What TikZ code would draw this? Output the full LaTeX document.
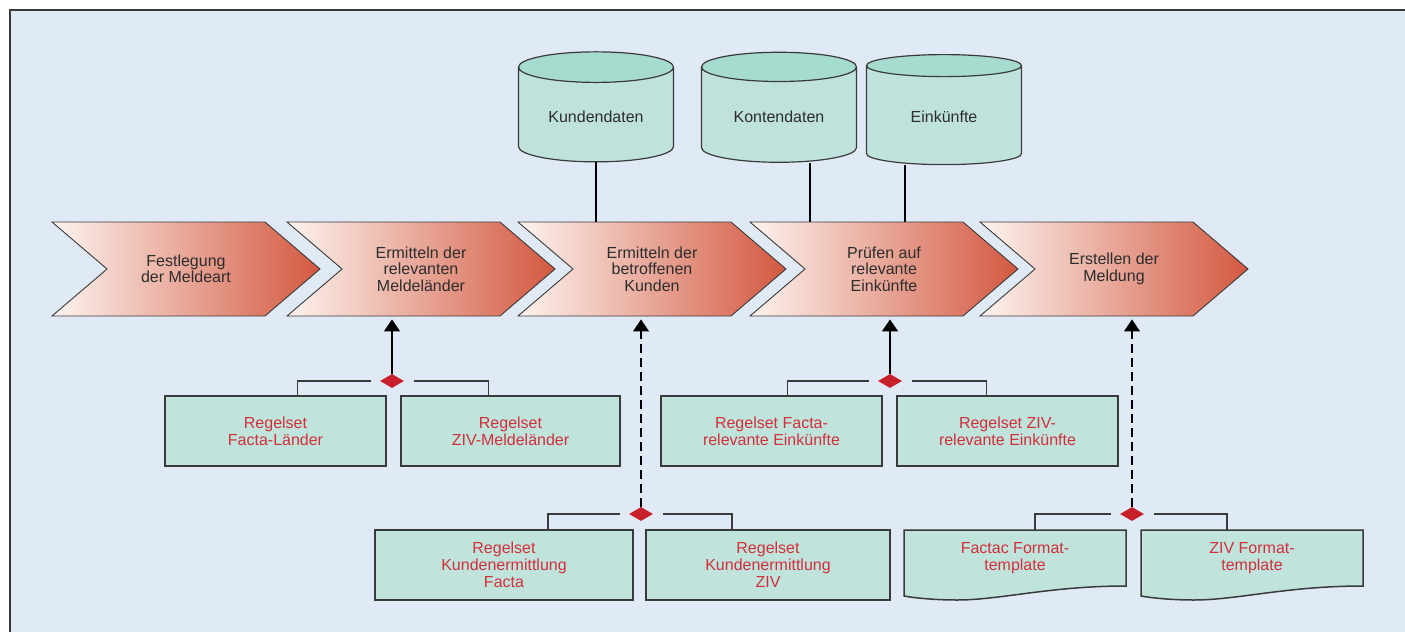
\documentclass[tikz,border=0pt]{standalone}
\usepackage{fontspec}
\setmainfont{Liberation Sans}
\usetikzlibrary{shapes.symbols,shapes.geometric,arrows.meta,calc}
\definecolor{sfondo}{RGB}{224,234,246}
\definecolor{bordo}{RGB}{58,58,58}
\definecolor{chevL}{RGB}{253,244,239}
\definecolor{chevR}{RGB}{211,88,64}
\definecolor{cilB}{RGB}{191,227,220}
\definecolor{cilT}{RGB}{166,220,208}
\definecolor{verde}{RGB}{192,228,220}
\definecolor{rosso}{RGB}{208,48,60}
\definecolor{rombo}{RGB}{200,32,43}
\definecolor{testo}{RGB}{45,45,45}
\begin{document}
\begin{tikzpicture}[x=1pt,y=-1pt,
    fase/.style={signal,signal from=west,signal to=east,signal pointer angle=81,
        minimum width=268pt,minimum height=94pt,inner sep=0pt,draw=bordo,line width=0.9pt,
        left color=chevL,right color=chevR,text=testo,align=center,
        font=\fontsize{16}{16.5}\selectfont},
    archivio/.style={cylinder,shape border rotate=90,aspect=0.3,cylinder uses custom fill,
        cylinder body fill=cilB,cylinder end fill=cilT,draw=bordo,line width=1.2pt,
        minimum width=155pt,minimum height=110pt,text=testo,font=\fontsize{16}{17}\selectfont},
    regola/.style={rectangle,draw=bordo,line width=1.5pt,fill=verde,text=rosso,align=center,
        minimum height=70pt,font=\fontsize{16}{17}\selectfont},
    modello/.style={rectangle,minimum height=56pt,text=rosso,align=center,
        font=\fontsize{16}{17}\selectfont},
    foglio/.style={draw=bordo,line width=1.5pt,fill=verde},
    nodo/.style={diamond,fill=rombo,inner sep=0pt,minimum width=24pt,minimum height=14pt,aspect=1.7},
    freccia/.style={line width=1.8pt,-{Triangle[width=16pt,length=12pt]},shorten >=3pt},
    tratteggio/.style={freccia,line width=1.2pt,dash pattern=on 9pt off 5pt},
    ramo/.style={draw=bordo,line width=1.3pt},
    linea/.style={line width=1.3pt}]
    \useasboundingbox(0,0)rectangle(1405,632);
    % cornice
    \fill[sfondo](10,10)rectangle(1405,632);
    \draw[bordo,line width=2pt](1405,10)--(10,10)--(10,632);

    % fasi del processo
    \node[fase](s1)at(186,269){Festlegung\\der Meldeart};
    \node[fase](s2)at(421,269){Ermitteln der\\relevanten\\Meldeländer};
    \node[fase](s3)at(652,269){Ermitteln der\\betroffenen\\Kunden};
    \node[fase](s4)at(884,269){Prüfen auf\\relevante\\Einkünfte};
    \node[fase](s5)at(1114,269){Erstellen der\\Meldung};

    % banche dati
    \node[archivio](kd)at(596,117){Kundendaten};
    \node[archivio](kt)at(779,117){Kontendaten};
    \node[archivio](ek)at(944,117){Einkünfte};
    \draw[linea](kd.south)--(kd.south|-s3.north);
    \draw[linea]([xshift=31pt]kt.south)coordinate(kt1)--(kt1|-s4.north);
    \draw[linea]([xshift=-39pt]ek.south)coordinate(ek1)--(ek1|-s4.north);

    % regole
    \node[regola,minimum width=221pt](fl)at(275.5,431){Regelset\\Facta-Länder};
    \node[regola,minimum width=219pt](zm)at(510.5,431){Regelset\\ZIV-Meldeländer};
    \node[regola,minimum width=221pt](fe)at(771.5,431){Regelset Facta-\\relevante Einkünfte};
    \node[regola,minimum width=221pt](ze)at(1007.5,431){Regelset ZIV-\\relevante Einkünfte};
    \node[regola,minimum width=258pt](kf)at(504,565){Regelset\\Kundenermittlung\\Facta};
    \node[regola,minimum width=244pt](kz)at(768,565){Regelset\\Kundenermittlung\\ZIV};

    % modelli di formato
    \draw[foglio](904,530)--(1126,530)--(1126,586)
        .. controls (1050,586) and (1000,600) .. (957,600)
        .. controls (935,600) and (915,598) .. (904,596)--cycle;
    \draw[foglio](1141,530)--(1363,530)--(1363,586)
        .. controls (1287,586) and (1237,600) .. (1194,600)
        .. controls (1172,600) and (1152,598) .. (1141,596)--cycle;
    \node[modello,minimum width=222pt](fm)at(1015,558){Factac Format-\\template};
    \node[modello,minimum width=222pt](zf)at(1252,558){ZIV Format-\\template};

    % rombi e collegamenti
    \node[nodo](d1)at(392,381){};
    \node[nodo](d2)at(641,514){};
    \node[nodo](d3)at(890,381){};
    \node[nodo](d4)at(1132,514){};

    \draw[ramo]([xshift=-9pt]d1.west)-|([xshift=22pt]fl.north);
    \draw[ramo]([xshift=10pt]d1.east)-|([xshift=-22pt]zm.north);
    \draw[ramo]([xshift=-9pt]d2.west)-|([xshift=44pt]kf.north);
    \draw[ramo]([xshift=10pt]d2.east)-|([xshift=-36pt]kz.north);
    \draw[ramo]([xshift=-9pt]d3.west)-|([xshift=16pt]fe.north);
    \draw[ramo]([xshift=10pt]d3.east)-|([xshift=-21pt]ze.north);
    \draw[ramo]([xshift=-9pt]d4.west)-|([xshift=20pt]fm.north);
    \draw[ramo]([xshift=10pt]d4.east)-|([xshift=-25pt]zf.north);

    \draw[freccia](d1.north)--(d1|-s2.south);
    \draw[tratteggio](d2.north)--(d2|-s3.south);
    \draw[freccia](d3.north)--(d3|-s4.south);
    \draw[tratteggio](d4.north)--(d4|-s5.south);
\end{tikzpicture}
\end{document}
